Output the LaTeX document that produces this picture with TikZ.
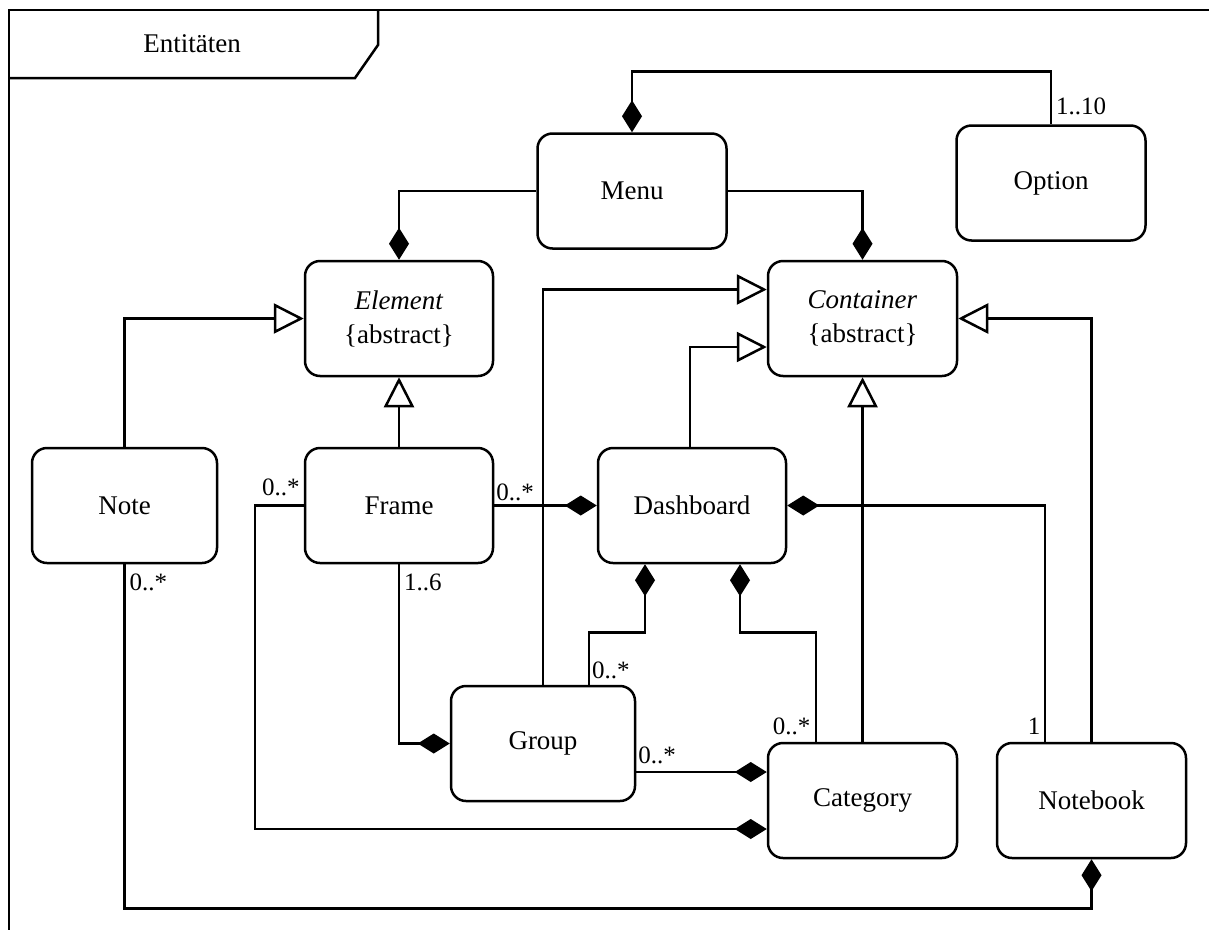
\documentclass[tikz,border=0pt]{standalone}
\usepackage{fontspec}
\setmainfont{LiberationSerif}[Extension=.ttf, UprightFont=*-Regular, ItalicFont=*-Italic, BoldFont=*-Bold, BoldItalicFont=*-BoldItalic]
\usetikzlibrary{arrows.meta}

\tikzset{
  cls/.style={draw, rounded corners=15pt, line width=2.5pt, minimum width=189pt,
    minimum height=115pt, inner sep=0pt, align=center,
    font=\fontsize{27}{34}\selectfont},
  lbl/.style={inner sep=1pt, font=\fontsize{25}{28}\selectfont},
  conn/.style={line width=2.5pt},
  comp/.style={conn, {Diamond[length=32pt,width=20pt]}-},
  gen/.style={conn, -{Triangle[open,length=30pt,width=30pt,fill=white,line width=2.5pt]}},
}

\begin{document}
\begin{tikzpicture}[x=1pt, y=-1pt, line join=miter]
\useasboundingbox (0,0) rectangle (1209,929);

% package frame with its name tab
\draw[line width=2.5pt] (9,940) -- (9,10) -- (1220,10);
\draw[line width=2.5pt] (9,78) -- (355,78) -- (378,45) -- (378,10);
\node[font=\fontsize{27}{30}\selectfont] (pkg) at (192,44) {Entitäten};

% classes
\node[cls] (menu)      at (632,191)   {Menu};
\node[cls] (option)    at (1051,183)  {Option};
\node[cls, minimum width=188pt] (element)   at (399,318.5) {\textit{Element}\\\{abstract\}};
\node[cls] (container) at (862.5,318.5) {\textit{Container}\\\{abstract\}};
\node[cls, minimum width=185pt] (note)      at (124.5,505.5) {Note};
\node[cls, minimum width=188pt] (frame)     at (399,505.5) {Frame};
\node[cls, minimum width=188pt] (dashboard) at (692,505.5) {Dashboard};
\node[cls, minimum width=184pt] (group)     at (543,743.5) {Group};
\node[cls] (category)  at (862.5,800.5) {Category};
\node[cls] (notebook)  at (1091.5,800.5) {Notebook};

% generalizations
\draw[gen] (note.north) |- (element.west);
\draw[gen] (frame.north) -- (element.south);
\draw[gen] (group.north) |- ([yshift=29pt]container.west);
\draw[gen] ([xshift=-2pt]dashboard.north) |- ([yshift=-28.5pt]container.west);
\draw[gen] (category.north) -- (container.south);
\draw[gen] (notebook.north) |- (container.east);

% compositions
\draw[comp] (menu.north) -- ++(0,-61) -| (option.north);
\draw[comp] (element.north) |- (menu.west);
\draw[comp] (container.north) |- (menu.east);
\draw[comp] (dashboard.west) -- (frame.east);
\draw[comp] (group.west) -| (frame.south);
\draw[comp] ([yshift=-28.5pt]category.west) -| ([xshift=-49pt]frame.west) -- (frame.west);
\draw[comp] ([xshift=-47pt]dashboard.south) -- ++(0,68) -| ([xshift=46pt]group.north);
\draw[comp] ([xshift=48pt]dashboard.south) -- ++(0,68) -| ([xshift=-46.5pt]category.north);
\draw[comp] ([yshift=28.5pt]category.west) -- ([yshift=-28.5pt]group.east);
\draw[comp] (dashboard.east) -| ([xshift=-46.5pt]notebook.north);
\draw[comp] (notebook.south) -- ++(0,49) -| (note.south);

% multiplicities
\node[lbl, anchor=south west] (m1) at ([xshift=4pt,yshift=8pt]option.north) {1..10};
\node[lbl, anchor=south west] (m2) at ([xshift=1pt,yshift=3pt]frame.east) {0..*};
\node[lbl, anchor=south east] (m3) at ([xshift=-3pt,yshift=8pt]frame.west) {0..*};
\node[lbl, anchor=north west] (m4) at ([xshift=4pt,yshift=-8pt]frame.south) {1..6};
\node[lbl, anchor=north west] (m5) at ([xshift=4pt,yshift=-8pt]note.south) {0..*};
\node[lbl, anchor=south west] (m6) at ([xshift=48pt,yshift=5pt]group.north) {0..*};
\node[lbl, anchor=south east] (m7) at ([xshift=-51pt,yshift=6pt]category.north) {0..*};
\node[lbl, anchor=south west] (m8) at ([xshift=1pt,yshift=-22pt]group.east) {0..*};
\node[lbl, anchor=south east] (m9) at ([xshift=-50pt,yshift=6pt]notebook.north) {1};
\end{tikzpicture}
\end{document}
